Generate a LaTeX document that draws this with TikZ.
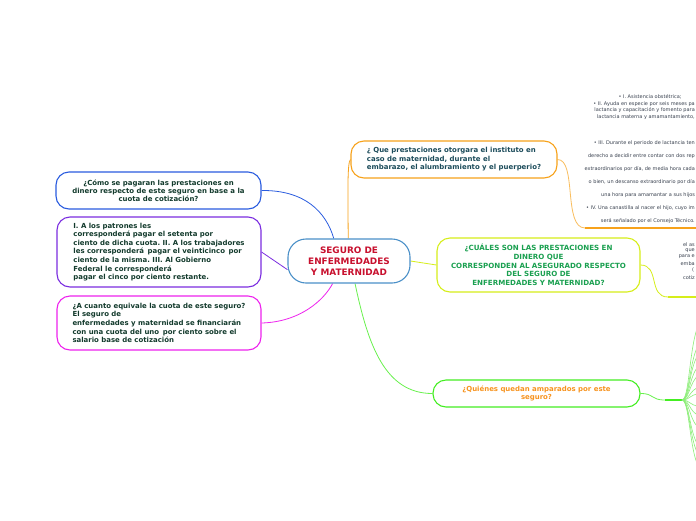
\documentclass[tikz,border=0pt]{standalone}
\usepackage{fontspec}
\setmainfont{DejaVu Sans}
\usetikzlibrary{backgrounds}
\definecolor{cenB}{HTML}{4A90C8}
\definecolor{cenT}{HTML}{C8102E}
\definecolor{orgB}{HTML}{F7A21B}
\definecolor{orgT}{HTML}{1B4B5A}
\definecolor{ygB}{HTML}{D6EE1A}
\definecolor{ygT}{HTML}{1AA050}
\definecolor{grnB}{HTML}{44EE22}
\definecolor{grnT}{HTML}{F7931E}
\definecolor{bluB}{HTML}{2A5CDF}
\definecolor{purB}{HTML}{7B2EE0}
\definecolor{magB}{HTML}{EE22EE}
\definecolor{darkT}{HTML}{123A2C}
\definecolor{smallT}{HTML}{3A4250}
\definecolor{fanC}{HTML}{8CEE78}
\frenchspacing
\begin{document}
\begin{tikzpicture}[x=1pt,y=-1pt,
  box/.style={draw, rounded corners=13pt, line width=1.1pt, fill=white, inner sep=0pt,
    font=\bfseries\fontsize{6.95}{8.6}\selectfont},
  conn/.style={line width=0.8pt},
  under/.style={line width=1.8pt},
  tiny/.style={font=\fontsize{5}{5.5}\selectfont, text=smallT, inner sep=0pt}]
\useasboundingbox (0,0) rectangle (696,520);
\clip (0,0) rectangle (696,520);

% nodes
\node[box, draw=cenB, text=cenT, rounded corners=18pt, minimum width=122, minimum height=44,
  align=center, font=\bfseries\fontsize{8.9}{11}\selectfont] (cen) at (349,261)
  {SEGURO DE\\ENFERMEDADES\\Y MATERNIDAD};
\node[box, draw=orgB, text=orgT, minimum width=206, minimum height=37, align=left] (org) at (454,159.5)
  {¿ Que prestaciones otorgara el instituto en\\caso de maternidad, durante el\\embarazo, el alumbramiento y el puerperio?};
\node[box, draw=ygB, text=ygT, minimum width=203, minimum height=54, align=center,
  font=\bfseries\fontsize{7.1}{8.7}\selectfont] (yg) at (538.5,265)
  {¿CUÁLES SON LAS PRESTACIONES EN\\DINERO QUE\\CORRESPONDEN AL ASEGURADO RESPECTO\\DEL SEGURO DE\\ENFERMEDADES Y MATERNIDAD?};
\node[box, draw=grnB, text=grnT, minimum width=207, minimum height=27, align=center] (grn) at (536.5,393.5)
  {¿Quiénes quedan amparados por este\\seguro?};
\node[box, draw=bluB, text=darkT, minimum width=205, minimum height=37, align=center,
  font=\bfseries\fontsize{6.95}{8.1}\selectfont] (blu) at (158.5,190.5)
  {¿Cómo se pagaran las prestaciones en\\dinero respecto de este seguro en base a la\\cuota de cotización?};
\node[box, draw=purB, text=darkT, minimum width=204, minimum height=70, align=left] (pur) at (159,252)
  {I. A los patrones les\\corresponderá pagar el setenta por\\ciento de dicha cuota. II. A los trabajadores\\les corresponderá\, pagar el veinticinco\, por\\ciento de la misma. III. Al Gobierno\\Federal le corresponderá\\pagar el cinco por ciento restante.};
\node[box, draw=magB, text=darkT, minimum width=204, minimum height=54, align=left] (mag) at (159,323)
  {¿A cuanto equivale la cuota de este seguro?\\El seguro de\\enfermedades y maternidad se financiarán\\con una cuota del uno\, por ciento sobre el\\salario base de cotización};

% right-side texts (as much as the edge shows)
\node[tiny] (ra1) at (650,97) {• I. Asistencia obstétrica;};
\foreach \i/\y/\t in {
  2/104/{• II. Ayuda en especie por seis meses pa},
  3/110.5/{lactancia y capacitación y fomento para},
  4/117/{lactancia materna y amamantamiento,},
  5/143/{• III. Durante el periodo de lactancia ten},
  6/156/{derecho a decidir entre contar con dos rep},
  7/169/{extraordinarios por día, de media hora cada},
  8/182/{o bien, un descanso extraordinario por día},
  10/208/{• IV. Una canastilla al nacer el hijo, cuyo im},
  11/221/{será señalado por el Consejo Técnico.}}
  \node[tiny, anchor=east] (ra\i) at (695,\y) {\t};
\node[tiny, anchor=west] (ra9) at (601,195) {una hora para amamantar a sus hijos};
\foreach \i/\y/\t in {1/245/{el as},2/251/{que},3/257/{para e},
  4/263.5/{emba},6/278/{cotiz}}
  \node[tiny, anchor=east] (rb\i) at (695,\y) {\t};
\node[tiny, anchor=west] (rb5) at (692,270) {(};

\coordinate (oend) at (700,228);
\coordinate (yend) at (700,297);
\coordinate (gmid) at (665,400);
\coordinate (fan) at (682,400);

\begin{scope}[on background layer]
\fill[white] (0,0) rectangle (696,520);
\draw[conn, bluB] (blu.east) .. controls (305,190) and (326,212) .. (cen.124);
\draw[conn, purB] (pur.east) -- (cen.188);
\draw[conn, magB] (mag.east) .. controls (300,322) and (324,300) .. (cen.234);
\draw[conn, orgB] (cen.92) .. controls (348,200) and (347,162) .. (org.west);
\draw[conn, ygB] (cen.east) -- (yg.west);
\draw[conn, grnB!80!white] (cen.285) .. controls (368,345) and (385,393.5) .. (grn.west);
% right connectors
\draw[conn, orgB!70!white] (org.east) .. controls (577,159.5) and (563,228) .. (585,228);
\draw[under, orgB] (585,228) -- (oend);
\draw[conn, ygB] (yg.east) .. controls (660,265) and (648,297) .. (668,297);
\draw[under, ygB] (668,297) -- (yend);
\draw[conn, grnB!80!white] (grn.east) .. controls (655,393.5) and (650,400) .. (gmid);
\draw[under, grnB] (gmid) -- (fan);
\foreach \y in {318,340,350,363,373,386,393,407,417,430,450,460,473}
  \draw[line width=0.6pt, fanC] (fan) .. controls (691,400) and (689,\y) .. (706,\y);
\end{scope}
\end{tikzpicture}
\end{document}
